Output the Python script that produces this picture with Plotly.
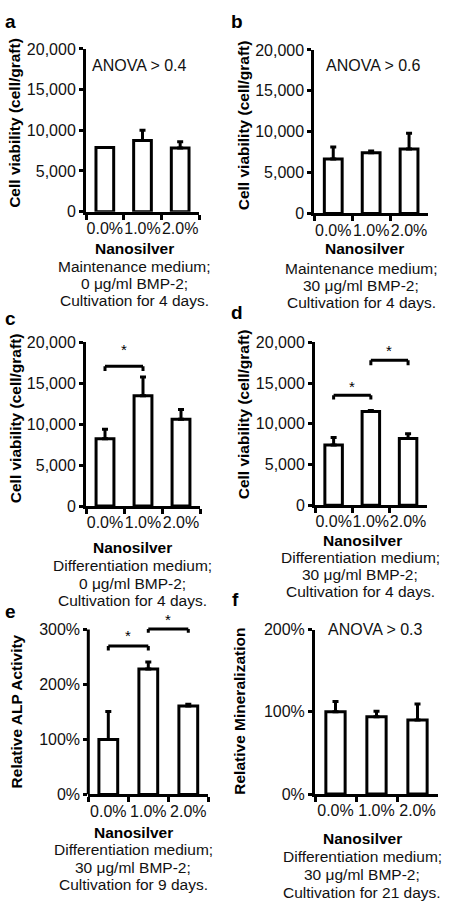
import plotly.graph_objects as go

W, H = 451, 915
FONT = "Liberation Sans"

categories = ["0.0%", "1.0%", "2.0%"]

a_vals = [7900, 8750, 7830]
a_err = [0, 1250, 770]
b_vals = [6670, 7420, 7890]
b_err = [1460, 200, 1910]
c_vals = [8210, 13490, 10610]
c_err = [1170, 2280, 1200]
d_vals = [7400, 11500, 8200]
d_err = [930, 150, 580]
e_vals = [100, 228, 161]
e_err = [51, 13, 3]
f_vals = [100, 94, 90]
f_err = [12.6, 6.7, 19.5]

panel_values = [a_vals, b_vals, c_vals, d_vals, e_vals, f_vals]
panel_errors = [a_err, b_err, c_err, d_err, e_err, f_err]
panel_letters = ["a", "b", "c", "d", "e", "f"]
y_titles = ["Cell viability (cell/graft)"] * 4 + ["Relative ALP Activity", "Relative Mineralization"]
captions = [
    ["Maintenance medium;", "0 \u03bcg/ml BMP-2;", "Cultivation for 4 days."],
    ["Maintenance medium;", "30 \u03bcg/ml BMP-2;", "Cultivation for 4 days."],
    ["Differentiation medium;", "0 \u03bcg/ml BMP-2;", "Cultivation for 4 days."],
    ["Differentiation medium;", "30 \u03bcg/ml BMP-2;", "Cultivation for 4 days."],
    ["Differentiation medium;", "30 \u03bcg/ml BMP-2;", "Cultivation for 9 days."],
    ["Differentiation medium;", "30 \u03bcg/ml BMP-2;", "Cultivation for 21 days."],
]
anova_texts = {0: "ANOVA > 0.4", 1: "ANOVA > 0.6", 5: "ANOVA > 0.3"}
# significance brackets: panel, from-category, to-category, bar height, leg bottom, star height
brackets = [
    (2, 0, 1, 17090, 16500, 19100),
    (3, 0, 1, 13500, 13000, 14600),
    (3, 1, 2, 17800, 17200, 19000),
    (4, 0, 1, 270, 262, 290),
    (4, 1, 2, 301, 294, 318),
]

y_ranges = [[0, 20000]] * 4 + [[0, 325], [0, 200]]
y_tickvals = [[0, 5000, 10000, 15000, 20000]] * 4 + [[0, 100, 200, 300], [0, 100, 200]]
y_axis_top = [20000] * 4 + [300, 200]

# pixel boxes (left, right, top, bottom) of plot areas
boxes = [
    (86, 199, 41.7, 207.5),
    (314.3, 428, 42.7, 209.3),
    (86, 200, 340.7, 507.5),
    (315, 426.7, 340.7, 506.7),
    (88.3, 208.3, 619.3, 801.3),
    (315, 438, 633.3, 801),
]
letter_pos = [(10.5, 14), (237, 14), (10.5, 316), (237, 310), (10.5, 615), (235, 603)]
ytitle_pos = [(15, 117), (243, 119.5), (15, 418), (243, 414), (16, 716.7), (240, 716)]
nano_pos = [(134, 245), (364, 245), (132, 550), (362, 542.3), (133, 840), (362, 846.7)]
caption_y = [
    (263.5, 281, 298.5),
    (265, 282.7, 300),
    (568.3, 586, 604),
    (560, 577.7, 595),
    (857.7, 876, 893.3),
    (865, 882.7, 901),
]
caption_x = [134, 361, 132, 360, 133, 362]
anova_pos = {0: (139.5, 58.3), 1: (373, 58.3), 5: (375, 633.3)}


def px(x):
    return x / W


def py(y):
    return 1 - y / H


fig = go.Figure()
annotations = []
shapes = []

for i in range(6):
    n = "" if i == 0 else str(i + 1)
    xa, ya = "x" + n, "y" + n
    fig.add_trace(go.Bar(
        x=categories, y=panel_values[i], xaxis=xa, yaxis=ya,
        width=0.47,
        marker=dict(color="white", line=dict(color="black", width=3)),
        error_y=dict(type="data", array=panel_errors[i], arrayminus=[0] * 3,
                     symmetric=False, color="black", thickness=3, width=3),
        showlegend=False, hoverinfo="skip",
    ))
    l, r, t, b = boxes[i]
    show_line = i != 4
    if i >= 4:
        ticktext = ["%d%%" % v for v in y_tickvals[i]]
    else:
        ticktext = ["{:,}".format(v) for v in y_tickvals[i]]
    fig.update_layout(**{
        "xaxis" + n: dict(domain=[px(l), px(r)], anchor=ya, type="category",
                          range=[-0.5, 2.5], showline=True, linecolor="black", linewidth=3,
                          ticks="outside", tickson="boundaries", ticklen=5, tickwidth=2.5,
                          tickcolor="black", tickangle=0, showgrid=False, zeroline=False,
                          tickfont=dict(family=FONT, size=16, color="#111")),
        "yaxis" + n: dict(domain=[py(b), py(t)], anchor=xa, range=y_ranges[i],
                          tickmode="array", tickvals=y_tickvals[i], ticktext=ticktext,
                          showline=show_line, linecolor="black", linewidth=3,
                          ticks="outside", ticklen=4, tickwidth=2.5, tickcolor="black",
                          showgrid=False, zeroline=False,
                          tickfont=dict(family=FONT, size=16, color="#111")),
    })
    if not show_line:
        shapes.append(dict(type="line", xref=xa + " domain", yref=ya,
                           x0=0, x1=0, y0=0, y1=y_axis_top[i],
                           line=dict(color="black", width=3)))
    annotations.append(dict(x=px(letter_pos[i][0]), y=py(letter_pos[i][1]), xref="paper", yref="paper",
                            text="<b>%s</b>" % panel_letters[i], showarrow=False,
                            xanchor="center", yanchor="middle",
                            font=dict(family=FONT, size=19, color="black")))
    annotations.append(dict(x=px(ytitle_pos[i][0]), y=py(ytitle_pos[i][1]), xref="paper", yref="paper",
                            text="<b>%s</b>" % y_titles[i], showarrow=False, textangle=-90,
                            xanchor="center", yanchor="middle",
                            font=dict(family=FONT, size=15.5, color="black")))
    annotations.append(dict(x=px(nano_pos[i][0]), y=py(nano_pos[i][1]), xref="paper", yref="paper",
                            text="<b>Nanosilver</b>", showarrow=False,
                            xanchor="center", yanchor="middle",
                            font=dict(family=FONT, size=15.5, color="black")))
    for line_text, yy in zip(captions[i], caption_y[i]):
        annotations.append(dict(x=px(caption_x[i]), y=py(yy), xref="paper", yref="paper",
                                text=line_text, showarrow=False,
                                xanchor="center", yanchor="middle",
                                font=dict(family=FONT, size=15.5, color="#111")))
    if i in anova_texts:
        ax_, ay_ = anova_pos[i]
        annotations.append(dict(x=px(ax_), y=py(ay_), xref="paper", yref="paper",
                                text=anova_texts[i], showarrow=False,
                                xanchor="center", yanchor="middle",
                                font=dict(family=FONT, size=16, color="#111")))

for (p, c0, c1, yb, yl, ys) in brackets:
    n = "" if p == 0 else str(p + 1)
    xa, ya = "x" + n, "y" + n
    for (x0, x1, y0, y1) in [(c0, c0, yl, yb), (c0, c1, yb, yb), (c1, c1, yb, yl)]:
        shapes.append(dict(type="line", xref=xa, yref=ya, x0=x0, x1=x1, y0=y0, y1=y1,
                           line=dict(color="black", width=3)))
    annotations.append(dict(x=(c0 + c1) / 2, y=ys, xref=xa, yref=ya, text="*",
                            showarrow=False, xanchor="center", yanchor="middle",
                            font=dict(family=FONT, size=15, color="black")))

fig.update_layout(
    width=W, height=H,
    margin=dict(l=0, r=0, t=0, b=0),
    paper_bgcolor="white", plot_bgcolor="white",
    annotations=annotations, shapes=shapes,
)

# the page's default body margin would push the figure 8 px right and down
fig.write_html("out.html", config={"displayModeBar": False},
               post_script="document.body.style.margin='0';")
